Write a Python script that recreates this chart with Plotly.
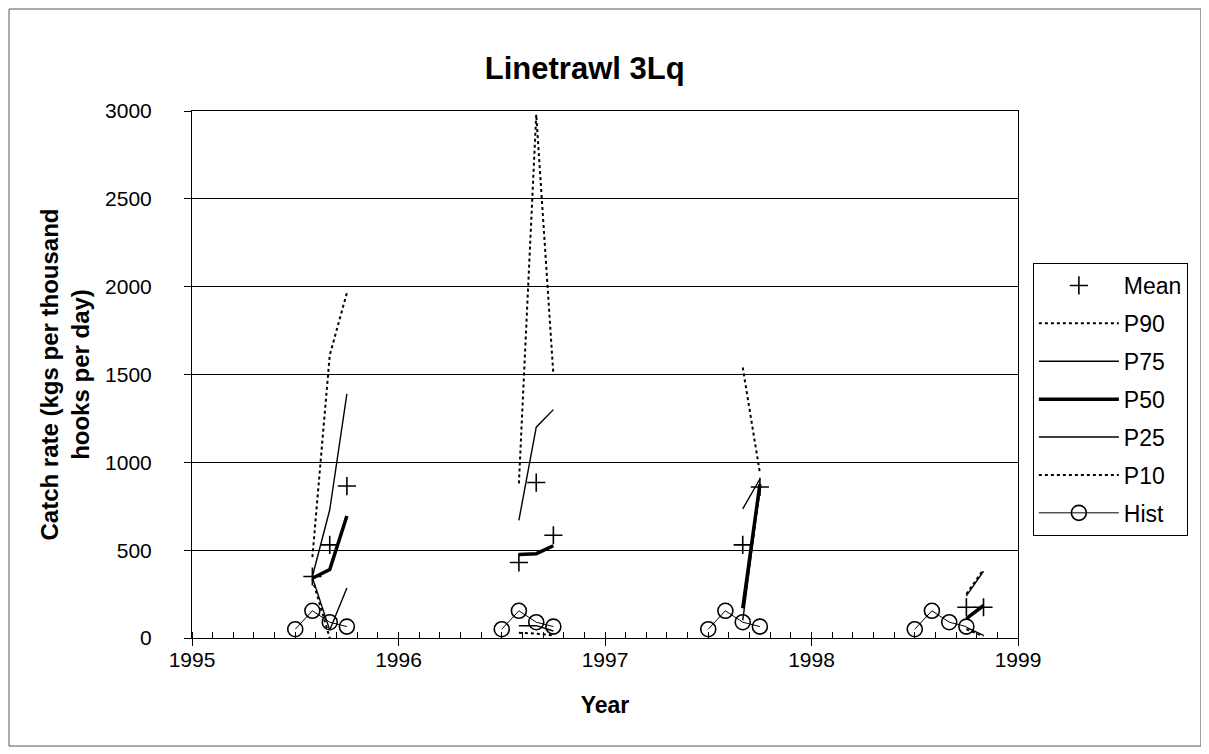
import plotly.graph_objects as go

# ---- data ----
x_time = [1995.5, 1995.583, 1995.667, 1995.75, None,
          1996.5, 1996.583, 1996.667, 1996.75, None,
          1997.5, 1997.583, 1997.667, 1997.75, None,
          1998.5, 1998.583, 1998.667, 1998.75, 1998.833]

mean_vals = [None, 350, 530, 865, None,
             None, 430, 885, 585, None,
             None, None, 530, 860, None,
             None, None, None, 175, 175]
p90_vals = [None, 460, 1610, 1965, None,
            None, 880, 2980, 1500, None,
            None, None, 1540, 940, None,
            None, None, None, 250, 390]
p75_vals = [None, 350, 730, 1390, None,
            None, 670, 1200, 1300, None,
            None, None, 735, 905, None,
            None, None, None, 240, 380]
p50_vals = [None, 340, 390, 695, None,
            None, 475, 480, 525, None,
            None, None, 170, 875, None,
            None, None, None, 110, 185]
p25_vals = [None, 345, 45, 285, None,
            None, 70, 70, 40, None,
            None, None, 100, 850, None,
            None, None, None, 60, 15]
p10_vals = [None, 335, 0, None, None,
            None, 30, 25, 15, None,
            None, None, 170, 845, None,
            None, None, None, 50, 10]
hist_vals = [50, 155, 90, 65, None,
             50, 155, 90, 65, None,
             50, 155, 90, 65, None,
             50, 155, 90, 65, None]

y_ticks = [0, 500, 1000, 1500, 2000, 2500, 3000]
x_ticks = [1995, 1996, 1997, 1998, 1999]

FONT = "Liberation Sans, Arial, Helvetica, sans-serif"
BLACK = "#000000"

fig = go.Figure()

fig.add_trace(go.Scatter(x=x_time, y=mean_vals, name="Mean", mode="markers",
                         marker=dict(symbol="cross-thin", size=13,
                                     line=dict(color=BLACK, width=1.6)),
                         legendgroup="a"))
fig.add_trace(go.Scatter(x=x_time, y=p90_vals, name="P90", mode="lines",
                         line=dict(color=BLACK, width=2, dash="dot"),
                         connectgaps=False, legendgroup="b"))
fig.add_trace(go.Scatter(x=x_time, y=p75_vals, name="P75", mode="lines",
                         line=dict(color=BLACK, width=1.4),
                         connectgaps=False, legendgroup="c"))
fig.add_trace(go.Scatter(x=x_time, y=p50_vals, name="P50", mode="lines",
                         line=dict(color=BLACK, width=3.5),
                         connectgaps=False, legendgroup="d"))
fig.add_trace(go.Scatter(x=x_time, y=p25_vals, name="P25", mode="lines",
                         line=dict(color=BLACK, width=1.4),
                         connectgaps=False, legendgroup="e"))
fig.add_trace(go.Scatter(x=x_time, y=p10_vals, name="P10", mode="lines",
                         line=dict(color=BLACK, width=2, dash="dot"),
                         connectgaps=False, legendgroup="f"))
fig.add_trace(go.Scatter(x=x_time, y=hist_vals, name="Hist", mode="lines+markers",
                         line=dict(color=BLACK, width=1),
                         marker=dict(symbol="circle-open", size=15,
                                     line=dict(color=BLACK, width=1.6)),
                         connectgaps=False, legendgroup="g"))

fig.update_layout(
    width=1209, height=754,
    paper_bgcolor="white", plot_bgcolor="white",
    margin=dict(l=184, r=199, t=103, b=124, autoexpand=False),
    font=dict(family=FONT, size=20, color=BLACK),
    title=dict(text="<b>Linetrawl 3Lq</b>", x=0.477, xanchor="center",
               y=0.92, yanchor="middle", font=dict(size=31, family=FONT, color=BLACK)),
    showlegend=True,
    legend=dict(x=1.018, y=0.7116, xanchor="left", yanchor="top",
                bordercolor=BLACK, borderwidth=1, bgcolor="white",
                font=dict(size=23, family=FONT), traceorder="grouped",
                tracegroupgap=5, itemwidth=80),
    shapes=[dict(type="rect", xref="paper", yref="paper",
                 x0=-0.2215, x1=1.2215, y0=-0.205, y1=1.1935,
                 line=dict(color="#555555", width=1), layer="below")],
)

fig.update_xaxes(
    range=[1995, 1999], tickvals=x_ticks, ticktext=[str(v) for v in x_ticks],
    showgrid=False, zeroline=False,
    showline=True, linecolor=BLACK, linewidth=1, mirror=True,
    ticks="outside", ticklen=7, tickcolor=BLACK, tickwidth=1,
    ticklabelstandoff=-4,
    minor=dict(dtick=0.1, tick0=1995, ticks="inside", ticklen=6,
               tickcolor=BLACK, tickwidth=1, showgrid=False),
    tickfont=dict(size=21, family=FONT),
    title=dict(text="<b>Year</b>", font=dict(size=23, family=FONT), standoff=26),
)
fig.update_yaxes(
    range=[0, 3000], tickvals=y_ticks,
    showgrid=True, gridcolor=BLACK, gridwidth=1, zeroline=False,
    showline=True, linecolor=BLACK, linewidth=1, mirror=True,
    ticks="outside", ticklen=7, tickcolor=BLACK, tickwidth=1,
    ticklabelstandoff=28,
    tickfont=dict(size=21, family=FONT),
    title=dict(text="<b>Catch rate (kgs per thousand<br>hooks per day)</b>",
               font=dict(size=24, family=FONT), standoff=8),
)

fig.write_html("out.html")
